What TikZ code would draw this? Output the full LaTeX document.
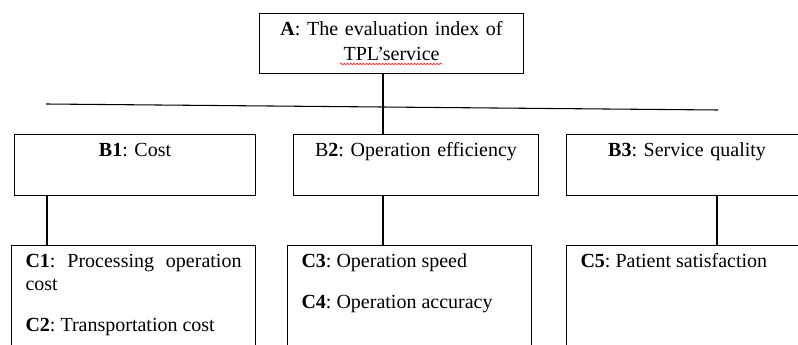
\documentclass[tikz,border=0pt]{standalone}
\usepackage{fontspec}
\setmainfont{Liberation Serif}
\usetikzlibrary{decorations.pathmorphing}
\hyphenpenalty=10000
\frenchspacing

\tikzset{
  box/.style={draw, line width=0.8pt, anchor=north west, inner xsep=10.5pt,
    inner ysep=0pt, text height=16.5pt, font=\fontsize{15}{17.25}\selectfont},
  headbox/.style={box, align=center, text depth=29.25pt},
  leafbox/.style={box, align=justify, text width=162pt, text depth=69.75pt},
}

\begin{document}
\begin{tikzpicture}[x=0.75pt, y=-0.75pt]
        \useasboundingbox (0,0) rectangle (798,345);
        \clip (0,0) rectangle (798,345);

        % cil
        \node[box, align=center, text width=177pt, text depth=28.5pt,
          font=\fontsize{15}{18.75}\selectfont] (A) at (259,13)
          {\textbf{A}: The evaluation index of\\TPL’service};
        \draw[red, line width=0.4pt, decorate,
          decoration={snake, amplitude=0.6pt, segment length=2.4pt}]
          (340,64) -- (442,64);

        % kriteria
        \node[headbox, text width=159.75pt] (B1) at (14,134) {\textbf{B1}: Cost};
        \node[headbox, text width=162.75pt] (B2) at (293,134) {B\textbf{2}: Operation efficiency};
        \node[headbox, text width=159.75pt] (B3) at (566,134) {\textbf{B3}: Service quality};

        % podkriteria
        \node[leafbox] (C1) at (11,245)
          {\textbf{C1}: Processing operation cost\\[13.5pt]\textbf{C2}: Transportation cost};
        \node[leafbox] (C34) at (287,245)
          {\textbf{C3}: Operation speed\\[13.5pt]\textbf{C4}: Operation accuracy};
        \node[leafbox] (C5) at (566,245) {\textbf{C5}: Patient satisfaction};

        % spojnice
        \coordinate (trunk) at (383,100);
        \coordinate (bar west) at (46,104);
        \coordinate (bar east) at (718,110);
        \draw[line width=0.8pt] (bar west) -- (bar east);
        \draw[line width=0.8pt] (A.south -| trunk) -- (trunk |- B2.north);
        \draw[line width=0.8pt] ([xshift=24.75pt]B1.south west) coordinate (b1) -- (b1 |- C1.north);
        \draw[line width=0.8pt] (trunk |- B2.south) -- (trunk |- C34.north);
        \draw[line width=0.8pt] ([xshift=113.25pt]B3.south west) coordinate (b3) -- (b3 |- C5.north);

    \end{tikzpicture}
\end{document}
